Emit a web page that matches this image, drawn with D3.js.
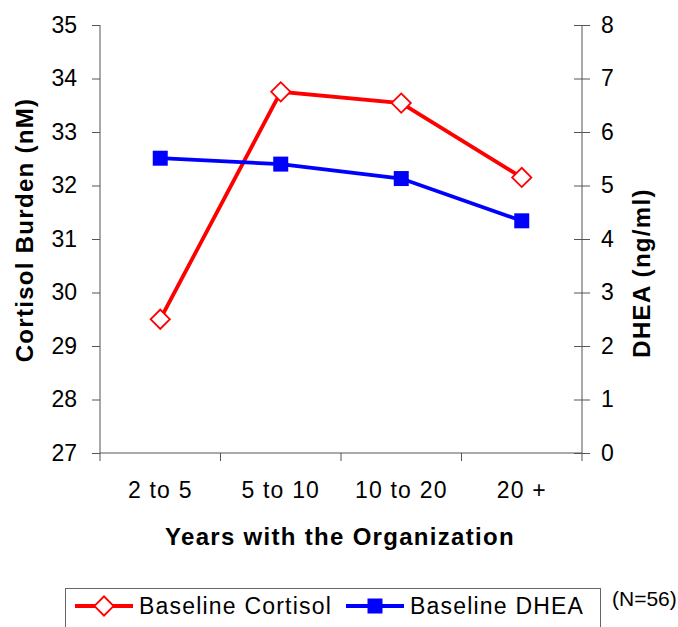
<!DOCTYPE html>
<html><head><meta charset="utf-8">
<script src="https://cdn.jsdelivr.net/npm/d3@7"></script>
<style>body{margin:0;background:#fff;} text{font-family:"Liberation Sans",Arial,sans-serif;}</style>
</head><body>
<svg id="chart" width="678" height="627"></svg>
<script>
const categories = ["2 to 5", "5 to 10", "10 to 20", "20 +"];
const cortisol = [29.5, 33.75, 33.54, 32.15];
const dhea = [5.51, 5.40, 5.13, 4.34];
const leftTicks = [27, 28, 29, 30, 31, 32, 33, 34, 35];
const rightTicks = [0, 1, 2, 3, 4, 5, 6, 7, 8];

const svg = d3.select("#chart");
const L = 100, R = 582, T = 25, B = 453;
const x = d3.scaleBand().domain(categories).range([L, R]).padding(0);
const yL = d3.scaleLinear().domain([27, 35]).range([B, T]);
const yR = d3.scaleLinear().domain([0, 8]).range([B, T]);
const axisColor = "#555";

const gL = svg.append("g").attr("transform", `translate(${L},0)`)
  .call(d3.axisLeft(yL).tickValues(leftTicks).tickSize(8).tickPadding(15).tickFormat(d3.format("d")));
const gR = svg.append("g").attr("transform", `translate(${R},0)`)
  .call(d3.axisRight(yR).tickValues(rightTicks).tickSize(8).tickPadding(11).tickFormat(d3.format("d")));
gR.selectAll(".tick line").attr("x1", -8);
const gX = svg.append("g").attr("transform", `translate(0,${B})`)
  .call(d3.axisBottom(x).tickSize(0).tickPadding(28.5));
gX.selectAll(".tick line").remove();
const bounds = categories.map(c => x(c)).concat([R]);
gX.selectAll(".bt").data(bounds).enter().append("line")
  .attr("x1", d => d).attr("x2", d => d).attr("y1", 0).attr("y2", 8)
  .attr("stroke", axisColor);

[gL, gR, gX].forEach(g => {
  g.select(".domain").attr("stroke", axisColor);
  g.selectAll(".tick line").attr("stroke", axisColor);
  g.selectAll(".tick text").attr("fill", "#000").style("font-size", "23px");
});
gX.selectAll(".tick text").style("letter-spacing", "1.2px");
gL.select(".domain").attr("d", `M0,${T}V${B}`);
gR.select(".domain").attr("d", `M0,${T}V${B}`);
gX.select(".domain").attr("d", `M${L},0H${R}`);

const cx = d => x(d) + x.bandwidth() / 2;

svg.append("path").datum(categories.map((c, i) => [cx(c), yL(cortisol[i])]))
  .attr("d", d3.line()).attr("fill", "none").attr("stroke", "#ff0000").attr("stroke-width", 3.8);
svg.append("path").datum(categories.map((c, i) => [cx(c), yR(dhea[i])]))
  .attr("d", d3.line()).attr("fill", "none").attr("stroke", "#0000ff").attr("stroke-width", 3.8);

const diamond = d3.symbol().type(d3.symbolSquare).size(185)();
const square = d3.symbol().type(d3.symbolSquare).size(225)();

svg.selectAll(".cm").data(categories).enter().append("path")
  .attr("d", diamond)
  .attr("transform", (c, i) => `translate(${cx(c)},${yL(cortisol[i])}) rotate(45)`)
  .attr("fill", "#fff").attr("stroke", "#ff0000").attr("stroke-width", 1.8);
svg.selectAll(".dm").data(categories).enter().append("path")
  .attr("d", square)
  .attr("transform", (c, i) => `translate(${cx(c)},${yR(dhea[i])})`)
  .attr("fill", "#0000ff");

const titleStyle = sel => sel.attr("text-anchor", "middle").style("font-size", "24px")
  .style("font-weight", "bold").style("letter-spacing", "1.3px");
svg.append("text").attr("transform", `translate(33,230) rotate(-90)`)
  .call(titleStyle).text("Cortisol Burden (nM)");
svg.append("text").attr("transform", `translate(650,273) rotate(-90)`)
  .call(titleStyle).text("DHEA (ng/ml)");
svg.append("text").attr("x", 340).attr("y", 545)
  .call(titleStyle).text("Years with the Organization");

svg.append("rect").attr("x", 65.5).attr("y", 588.5).attr("width", 535).attr("height", 50)
  .attr("fill", "none").attr("stroke", "#666").attr("stroke-width", 1);
const leg = [
  {name: "Baseline Cortisol", color: "#ff0000", x1: 75, x2: 133, tx: 139, type: "d"},
  {name: "Baseline DHEA", color: "#0000ff", x1: 346, x2: 404, tx: 410, type: "s"}
];
leg.forEach(l => {
  svg.append("line").attr("x1", l.x1).attr("x2", l.x2).attr("y1", 606).attr("y2", 606)
    .attr("stroke", l.color).attr("stroke-width", 3.8);
  const m = (l.x1 + l.x2) / 2;
  if (l.type === "d") {
    svg.append("path").attr("d", diamond).attr("transform", `translate(${m},606) rotate(45)`)
      .attr("fill", "#fff").attr("stroke", l.color).attr("stroke-width", 1.8);
  } else {
    svg.append("path").attr("d", square).attr("transform", `translate(${m},606)`).attr("fill", l.color);
  }
  svg.append("text").attr("x", l.tx).attr("y", 614).style("font-size", "23px")
    .style("letter-spacing", "1.2px").text(l.name);
});
svg.append("text").attr("x", 612).attr("y", 606).style("font-size", "21px").text("(N=56)");
</script>
</body></html>
